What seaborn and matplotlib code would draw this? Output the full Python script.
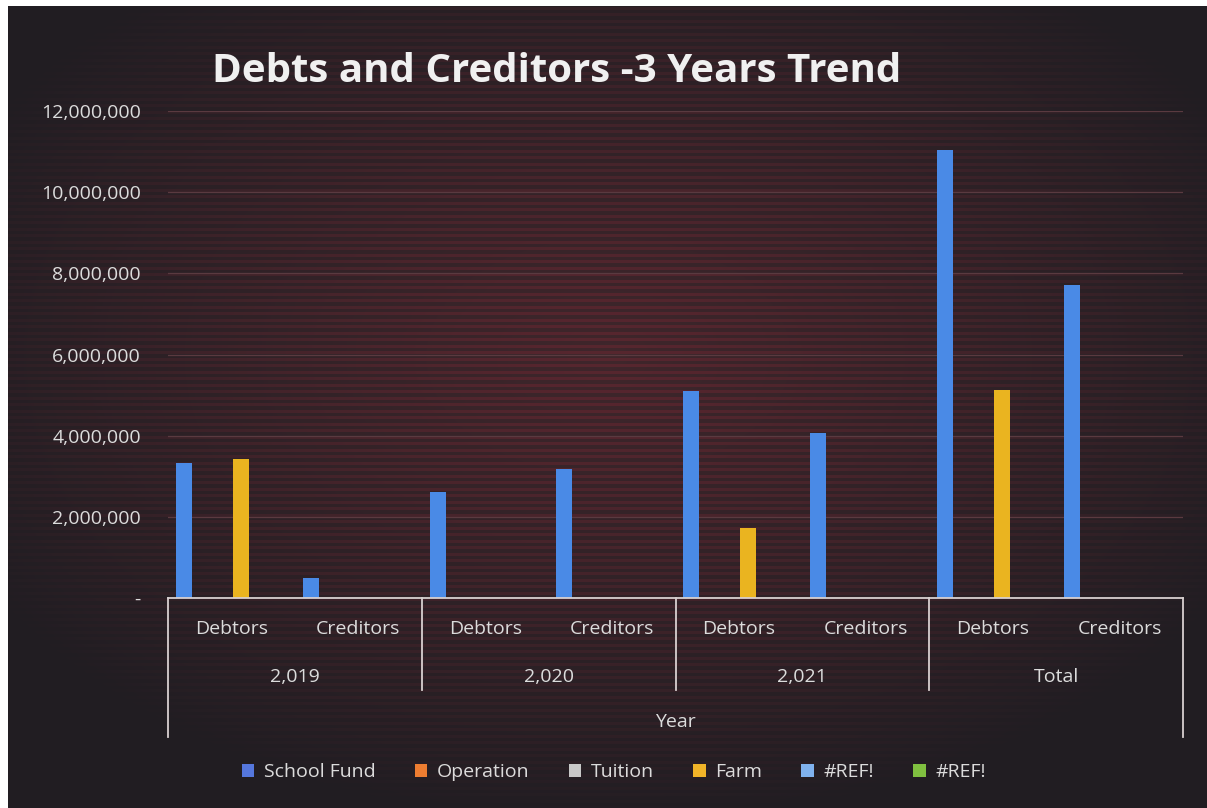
import numpy as np
import pandas as pd
import matplotlib
matplotlib.use("Agg")
import matplotlib.pyplot as plt
from matplotlib.patches import Patch
from matplotlib.ticker import FuncFormatter
import seaborn as sns

# ---------------- data ----------------
years = ["2,019", "2,020", "2,021", "Total"]
kinds = ["Debtors", "Creditors"]
series = ["School Fund", "Operation", "Tuition", "Farm", "#REF!", "#REF!"]
colors = ["#4a8ae6", "#ED7D31", "#A5A5A5", "#EAB420", "#5B9BD5", "#70AD47"]
legend_colors = ["#5577dd", "#ED7D31", "#C8C8C8", "#F0B428", "#7FB2EE", "#80C040"]

school_fund = [3330000, 490000, 2600000, 3170000, 5100000, 4060000, 11030000, 7720000]
operation = [0, 0, 0, 0, 0, 0, 0, 0]
tuition = [0, 0, 0, 0, 0, 0, 0, 0]
farm = [3420000, 0, 0, 0, 1720000, 0, 5120000, 0]
ref_a = [0, 0, 0, 0, 0, 0, 0, 0]
ref_b = [0, 0, 0, 0, 0, 0, 0, 0]
values = [school_fund, operation, tuition, farm, ref_a, ref_b]

cats = [f"{y}|{k}" for y in years for k in kinds]
rows = []
for si, vals in enumerate(values):
    for c, v in zip(cats, vals):
        rows.append({"cat": c, "series": f"s{si}", "value": v})
df = pd.DataFrame(rows)

# ---------------- figure ----------------
W, H = 1207, 808
fig = plt.figure(figsize=(W / 100, H / 100), dpi=100, facecolor="white")

# background (dark radial gradient with reddish banding)
bg = fig.add_axes([8 / W, 0, 1 - 8 / W, 1 - 6 / H])
bg.set_axis_off()
h, w = H - 6, W - 8
yy, xx = np.mgrid[0:h, 0:w]
r = np.sqrt(((xx - 600) / 720.0) ** 2 + ((yy - 350) / 470.0) ** 2)
t = np.clip(1 - r, 0, 1) ** 1.0
edge = np.array([0.13, 0.115, 0.135])
centre = np.array([0.25, 0.15, 0.17])
img = edge[None, None, :] + (centre - edge)[None, None, :] * t[..., None]
band = (np.sin(yy * 2 * np.pi / 6.5) > 0.2).astype(float)
red = np.array([0.40, 0.15, 0.19])
mix = (band * np.clip(t * 1.1, 0, 1) * 0.6)[..., None]
img = img * (1 - mix) + red[None, None, :] * mix
bg.imshow(np.clip(img, 0, 1), aspect="auto", extent=[0, 1, 0, 1], zorder=0)
bg.set_xlim(0, 1)
bg.set_ylim(0, 1)

ax = fig.add_axes([168 / W, 1 - 598 / H, (1183 - 168) / W, (598 - 111) / H])
ax.set_facecolor("none")

sns.barplot(data=df, x="cat", y="value", hue="series",
            hue_order=[f"s{i}" for i in range(6)], palette=colors, saturation=1,
            width=0.9, gap=0.16, linewidth=0, legend=False, ax=ax,
            errorbar=None, zorder=3)

ax.set_ylim(0, 12000000)
ax.set_xlim(-0.5, len(cats) - 0.5)
ax.set_yticks(np.arange(0, 12000001, 2000000))
ax.yaxis.set_major_formatter(FuncFormatter(lambda v, p: "-" if v == 0 else f"{int(v):,}"))
ax.grid(axis="y", color="#5a3a40", linewidth=0.9, zorder=1)
ax.grid(axis="x", visible=False)
ax.set_axisbelow(True)
for s in ax.spines.values():
    s.set_visible(False)

txt_col = "#dcdcdc"
font = "Open Sans"
fs = 14
ax.tick_params(axis="y", length=0, pad=19.5, labelsize=fs, labelcolor=txt_col)
for lab in ax.get_yticklabels():
    lab.set_fontfamily(font)
ax.set_xticks(range(len(cats)))
ax.set_xticklabels([c.split("|")[1] for c in cats], fontfamily=font,
                   fontsize=fs, color=txt_col)
ax.tick_params(axis="x", length=0, pad=16)
ax.set_xlabel("")
ax.set_ylabel("")

trans = ax.get_xaxis_transform()
line_col = "#d8d0d0"
ax.plot([-0.5, len(cats) - 0.5], [0, 0], color=line_col, lw=1.3, transform=trans, clip_on=False, zorder=4)
px = 1.0 / (598 - 111)
for b in [1.5, 3.5, 5.5]:
    ax.plot([b, b], [0, -92 * px], color=line_col, lw=1.3, transform=trans, clip_on=False)
for b in [-0.5, len(cats) - 0.5]:
    ax.plot([b, b], [0, -139 * px], color=line_col, lw=1.3, transform=trans, clip_on=False)
for i, y in enumerate(years):
    ax.text(2 * i + 0.5, -79 * px, y, transform=trans, ha="center", va="center",
            fontsize=fs, color=txt_col, fontfamily=font)
ax.text((len(cats) - 1) / 2, -124 * px, "Year", transform=trans, ha="center", va="center",
        fontsize=fs, color=txt_col, fontfamily=font)

fig.text(557 / W, 1 - 72 / H, "Debts and Creditors -3 Years Trend", ha="center", va="center",
         fontsize=29, fontweight="bold", color="#f0f0f0", fontfamily=font)

handles = [Patch(facecolor=c, edgecolor="none") for c in legend_colors]
leg = fig.legend(handles, series, loc="center", bbox_to_anchor=(614 / W, 1 - 772 / H), ncol=6,
                 frameon=False, handlelength=0.65, handleheight=0.65,
                 handletextpad=0.5, columnspacing=2.0, labelcolor=txt_col,
                 prop={"family": font, "size": fs})

fig.savefig("out.png", dpi=100, facecolor="white")
